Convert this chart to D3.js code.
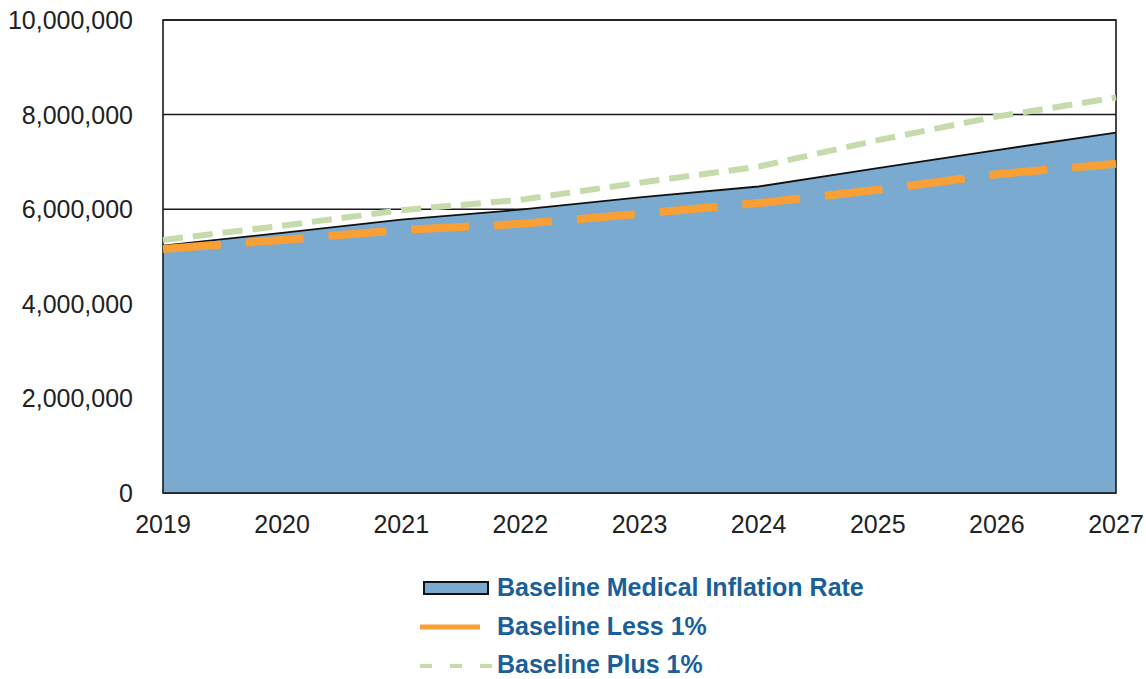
<!DOCTYPE html>
<html>
<head>
<meta charset="utf-8">
<script src="https://cdn.jsdelivr.net/npm/d3@7"></script>
<style>
  body { margin: 0; background: #fff; }
  svg { font-family: "Liberation Sans", Arial, sans-serif; }
</style>
</head>
<body>
<div id="chart"></div>
<script>
// data
const years = [2019, 2020, 2021, 2022, 2023, 2024, 2025, 2026, 2027];
const baseline = [5230000, 5500000, 5780000, 5990000, 6250000, 6480000, 6870000, 7250000, 7620000];
const lessOne = [5160000, 5350000, 5560000, 5690000, 5900000, 6130000, 6410000, 6740000, 6960000];
const plusOne = [5350000, 5650000, 5980000, 6200000, 6560000, 6900000, 7460000, 7960000, 8360000];
const yTicks = [0, 2000000, 4000000, 6000000, 8000000, 10000000];
const legendItems = ["Baseline Medical Inflation Rate", "Baseline Less 1%", "Baseline Plus 1%"];

const width = 1146, height = 679;
const plot = { left: 163, right: 1116, top: 20, bottom: 493 };

const svg = d3.select("#chart").append("svg")
	.attr("width", width)
	.attr("height", height);

const x = d3.scalePoint()
	.domain(years)
	.range([plot.left, plot.right]);

const y = d3.scaleLinear()
	.domain([0, 10000000])
	.range([plot.bottom, plot.top]);

const fmt = d3.format(",");

// gridlines (under area)
svg.append("g")
	.selectAll("line")
	.data(yTicks)
	.join("line")
	.attr("x1", plot.left).attr("x2", plot.right)
	.attr("y1", d => y(d)).attr("y2", d => y(d))
	.attr("stroke", "#1a1a1a")
	.attr("stroke-width", 1.5);

// baseline area
const rows = years.map((yr, i) => ({ yr, b: baseline[i], l: lessOne[i], p: plusOne[i] }));

svg.append("path")
	.datum(rows)
	.attr("d", d3.area().x(d => x(d.yr)).y0(y(0)).y1(d => y(d.b)))
	.attr("fill", "#7aaad0");

svg.append("path")
	.datum(rows)
	.attr("d", d3.line().x(d => x(d.yr)).y(d => y(d.b)))
	.attr("fill", "none")
	.attr("stroke", "#111")
	.attr("stroke-width", 1.8);

// frame
svg.append("rect")
	.attr("x", plot.left).attr("y", plot.top)
	.attr("width", plot.right - plot.left)
	.attr("height", plot.bottom - plot.top)
	.attr("fill", "none")
	.attr("stroke", "#1a1a1a")
	.attr("stroke-width", 1.6);

// scenario lines
svg.append("path")
	.datum(rows)
	.attr("d", d3.line().x(d => x(d.yr)).y(d => y(d.p)))
	.attr("fill", "none")
	.attr("stroke", "#c6dbab")
	.attr("stroke-width", 6)
	.attr("stroke-dasharray", "20,10");

svg.append("path")
	.datum(rows)
	.attr("d", d3.line().x(d => x(d.yr)).y(d => y(d.l)))
	.attr("fill", "none")
	.attr("stroke", "#f8a035")
	.attr("stroke-width", 8)
	.attr("stroke-dasharray", "58,25");

// axes labels
svg.append("g")
	.selectAll("text")
	.data(yTicks)
	.join("text")
	.attr("x", 133)
	.attr("y", d => y(d) + 9)
	.attr("text-anchor", "end")
	.attr("font-size", 25)
	.attr("fill", "#222")
	.text(d => fmt(d));

svg.append("g")
	.selectAll("text")
	.data(years)
	.join("text")
	.attr("x", d => x(d))
	.attr("y", 533)
	.attr("text-anchor", "middle")
	.attr("font-size", 25)
	.attr("fill", "#222")
	.text(d => d);

// legend
const legend = svg.append("g");

legend.append("rect")
	.attr("x", 424).attr("y", 582)
	.attr("width", 64).attr("height", 12)
	.attr("fill", "#7aaad0")
	.attr("stroke", "#111")
	.attr("stroke-width", 2);

legend.append("line")
	.attr("x1", 420).attr("x2", 480)
	.attr("y1", 627).attr("y2", 627)
	.attr("stroke", "#f8a035")
	.attr("stroke-width", 5);

legend.append("line")
	.attr("x1", 420).attr("x2", 492)
	.attr("y1", 666).attr("y2", 666)
	.attr("stroke", "#c6dbab")
	.attr("stroke-width", 4)
	.attr("stroke-dasharray", "12,18");

legend.selectAll("text")
	.data(legendItems)
	.join("text")
	.attr("x", 497)
	.attr("y", (d, i) => 596 + i * 38.5)
	.attr("font-size", 25)
	.attr("font-weight", "bold")
	.attr("fill", "#1b5f9a")
	.text(d => d);
</script>
</body>
</html>
